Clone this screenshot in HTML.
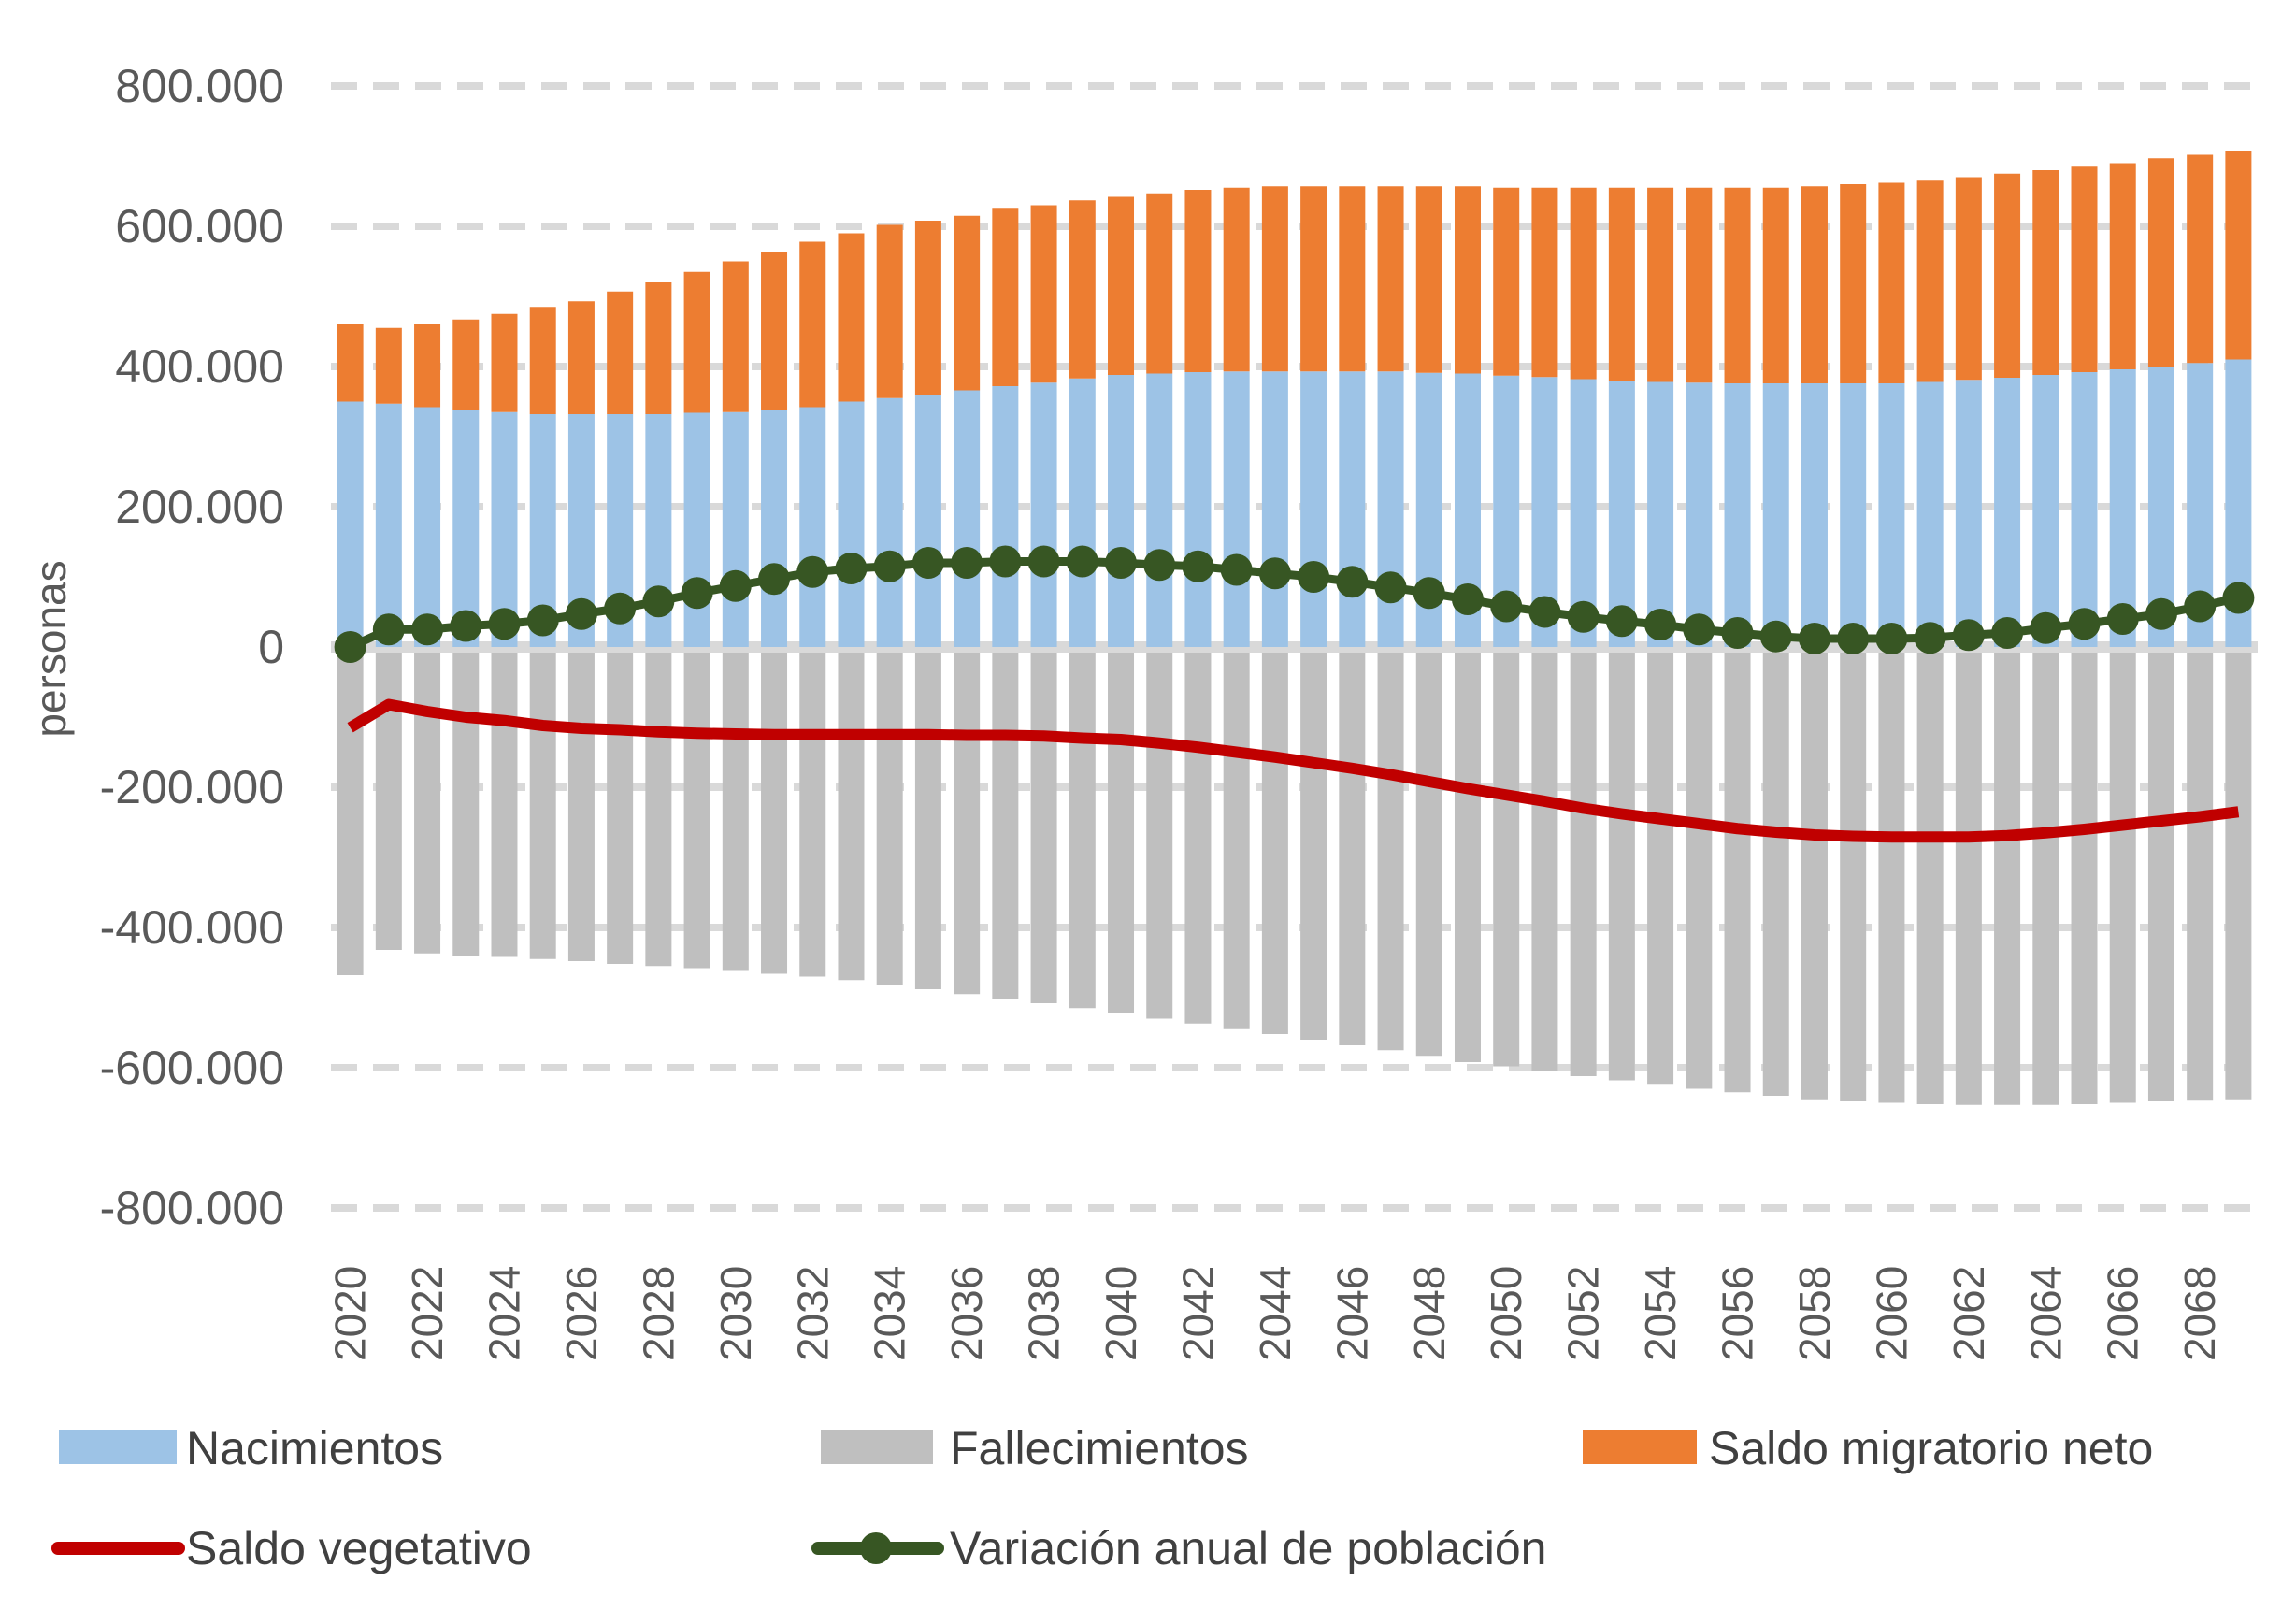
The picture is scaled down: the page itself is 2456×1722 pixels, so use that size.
<!DOCTYPE html>
<html><head><meta charset="utf-8"><style>
html,body{margin:0;padding:0;background:#fff;}
svg{display:block;font-family:"Liberation Sans",sans-serif;}
</style></head><body>
<svg id="chart" width="2456" height="1722" viewBox="0 0 2456 1722" xmlns="http://www.w3.org/2000/svg">
<g id="grid"></g>
<g id="bars"></g>
<g id="lines"></g>
<g id="yticks"></g>
<g id="xticks"></g>
<text transform="translate(70,694) rotate(-90)" text-anchor="middle" font-size="46" fill="#595959">personas</text>
<g font-size="50" fill="#404040">
  <g><rect x="63" y="1530" width="126" height="36" fill="#9dc3e6"/><text x="199" y="1566">Nacimientos</text></g>
  <g><rect x="878" y="1530" width="120" height="36" fill="#bfbfbf"/><text x="1016" y="1566">Fallecimientos</text></g>
  <g><rect x="1693" y="1530" width="122" height="36" fill="#ed7d31"/><text x="1828" y="1566">Saldo migratorio neto</text></g>
  <g><line x1="62" y1="1656" x2="191" y2="1656" stroke="#c00000" stroke-width="14" stroke-linecap="round"/><text x="199" y="1673">Saldo vegetativo</text></g>
  <g><line x1="875" y1="1656" x2="1003" y2="1656" stroke="#375623" stroke-width="14" stroke-linecap="round"/><circle cx="937" cy="1656" r="17" fill="#375623"/><text x="1016" y="1673">Variación anual de población</text></g>
</g>
</svg>
<script>
const years = [];
for (let y = 2020; y <= 2069; y++) years.push(y);
const births = [350,347,342,338,335,332,332,332,332,334,335,338,342,350,355,360,366,372,377,383,388,390,392,393,393,393,393,393,391,390,387,385,382,380,378,377,376,376,376,376,376,378,381,384,388,392,396,400,405,410];
const migration = [110,108,118,129,140,153,161,175,188,201,215,225,236,240,247,248,249,253,253,254,254,257,260,262,264,264,264,264,266,267,268,270,273,275,277,278,279,279,281,284,286,287,289,291,292,293,294,297,297,298];
const deaths = [-468,-432,-437,-440,-442,-445,-448,-452,-455,-458,-462,-466,-470,-475,-482,-488,-495,-502,-508,-515,-522,-530,-537,-545,-552,-560,-568,-575,-583,-592,-598,-605,-612,-618,-623,-630,-635,-640,-645,-648,-650,-652,-653,-653,-653,-652,-650,-648,-647,-645];
const vegetativo = [-115,-82,-92,-100,-105,-112,-116,-118,-121,-123,-124,-125,-125,-125,-125,-125,-126,-126,-127,-130,-132,-137,-143,-150,-157,-165,-173,-182,-192,-202,-211,-220,-230,-238,-245,-252,-259,-264,-268,-270,-271,-271,-271,-269,-265,-260,-254,-248,-242,-235];
const variacion = [0,25,25,30,33,38,47,55,65,77,87,97,107,112,115,120,120,122,122,122,120,117,115,110,105,100,93,85,77,68,58,50,43,37,32,25,20,15,12,12,12,13,17,20,27,33,40,47,58,70];
const yTicks = [800,600,400,200,0,-200,-400,-600,-800];
const yTickLabels = ["800.000","600.000","400.000","200.000","0","-200.000","-400.000","-600.000","-800.000"];

const NS = "http://www.w3.org/2000/svg";
const plotL = 354, plotR = 2415, zeroY = 692, pxPerK = 150/200;
const band = (plotR - plotL) / years.length, barW = 28;
const yS = v => zeroY - v * pxPerK;
const xC = i => plotL + band * (i + 0.5);
function mk(tag, attrs, parent) {
  const e = document.createElementNS(NS, tag);
  for (const k in attrs) e.setAttribute(k, attrs[k]);
  parent.appendChild(e);
  return e;
}
const grid = document.getElementById('grid'), bars = document.getElementById('bars'),
      lines = document.getElementById('lines'), yt = document.getElementById('yticks'), xt = document.getElementById('xticks');

yTicks.forEach((t, i) => {
  const y = yS(t);
  const gl = mk('line', {x1: plotL, x2: plotR, y1: y, y2: y, stroke: '#d9d9d9', 'stroke-width': t === 0 ? 12 : 8, 'stroke-dasharray': t === 0 ? 'none' : '28 17'}, grid);
  
  
  const tx = mk('text', {x: 304, y: y + 17, 'text-anchor': 'end', 'font-size': 50, fill: '#595959'}, yt);
  tx.textContent = yTickLabels[i];
  
  
});

years.forEach((yr, i) => {
  const x = xC(i) - barW / 2;
  const b = mk('rect', {x: x, y: yS(births[i]), width: barW, height: births[i] * pxPerK, fill: '#9dc3e6'}, bars);
  
  
  const m = mk('rect', {x: x, y: yS(births[i] + migration[i]), width: barW, height: migration[i] * pxPerK, fill: '#ed7d31'}, bars);
  
  
  const d = mk('rect', {x: x, y: yS(0) + 6, width: barW, height: -deaths[i] * pxPerK - 6, fill: '#bfbfbf'}, bars);
  
  
  if (i % 2 === 0) {
    const cx = xC(i);
    const t = mk('text', {x: 0, y: 0, transform: `translate(${cx + 16},1456) rotate(-90)`, 'font-size': 46, fill: '#595959'}, xt);
    t.textContent = yr;
    
    
  }
});

const red = mk('polyline', {points: vegetativo.map((v, i) => xC(i) + ',' + yS(v)).join(' '), fill: 'none', stroke: '#c00000', 'stroke-width': 12, 'stroke-linejoin': 'round'}, lines);


const green = mk('polyline', {points: variacion.map((v, i) => xC(i) + ',' + yS(v)).join(' '), fill: 'none', stroke: '#375623', 'stroke-width': 9}, lines);


variacion.forEach((v, i) => {
  const c = mk('circle', {cx: xC(i), cy: yS(v), r: 17, fill: '#375623'}, lines);
  
  
});
</script>
</body></html>
